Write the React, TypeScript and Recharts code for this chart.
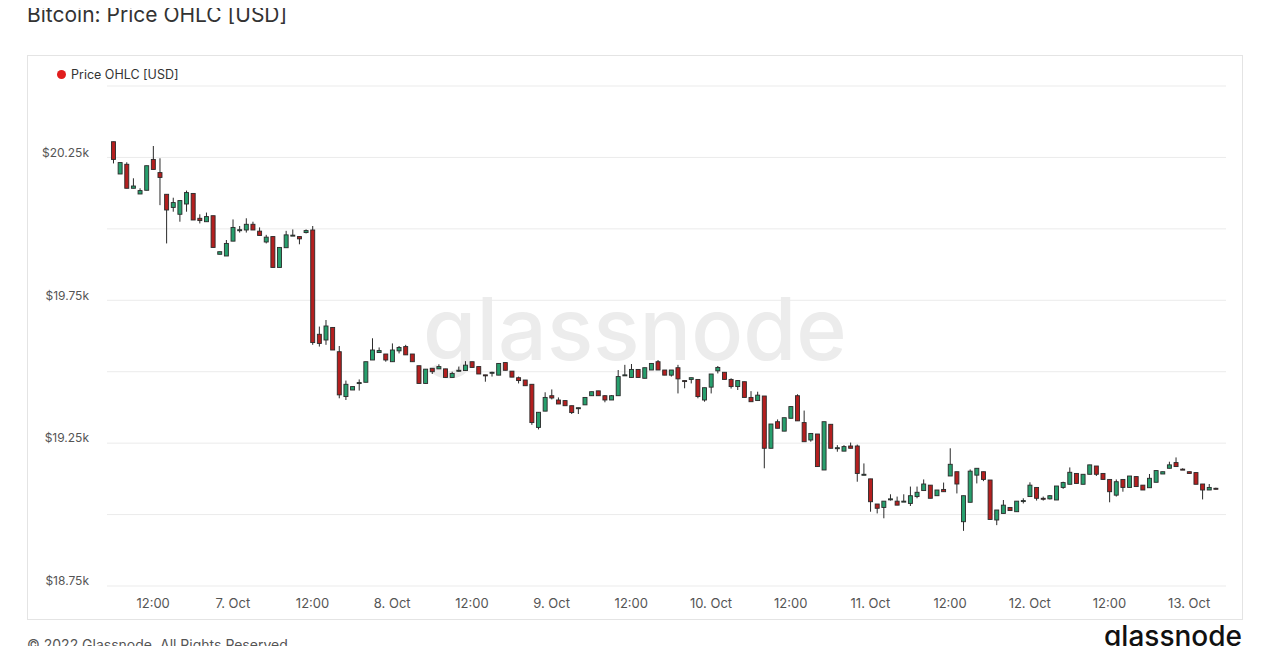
import React from 'react';
import { ComposedChart, Bar, XAxis, YAxis, CartesianGrid } from 'recharts';

// hourly candles, first one = 6 Oct 2022 06:00
const opens = [
  20305, 20192, 20226, 20142, 20122, 20135, 20243, 20197, 20121, 20075,
  20051, 20087, 20124, 20037, 20025, 20046, 19911, 19905, 19957, 19995,
  19996, 20016, 19992, 19954, 19973, 19865, 19934, 19976, 19973, 19987,
  19996, 19631, 19611, 19655, 19570, 19413, 19436, 19459, 19463, 19541,
  19567, 19562, 19535, 19573, 19588, 19562, 19521, 19459, 19512, 19510,
  19510, 19480, 19503, 19504, 19535, 19518, 19489, 19496, 19488, 19532,
  19502, 19479, 19471, 19456, 19305, 19362, 19416, 19401, 19399, 19381,
  19372, 19384, 19416, 19433, 19416, 19401, 19416, 19487, 19480, 19508,
  19477, 19506, 19535, 19506, 19488, 19514, 19469, 19473, 19473, 19401,
  19446, 19503, 19498, 19473, 19448, 19465, 19410, 19399, 19415, 19232,
  19325, 19292, 19337, 19416, 19322, 19261, 19282, 19156, 19316, 19232,
  19222, 19240, 19240, 19140, 19125, 19037, 19025, 19053, 19047, 19045,
  19039, 19063, 19084, 19103, 19066, 19088, 19135, 19150, 18975, 19043,
  19138, 19150, 19121, 18981, 19004, 19025, 19010, 19047, 19063, 19095,
  19057, 19055, 19051, 19095, 19106, 19144, 19106, 19141, 19170, 19144,
  19123, 19068, 19123, 19095, 19133, 19103, 19094, 19113, 19142, 19162,
  19182, 19159, 19150, 19147, 19107, 19086, 19092,
];
const highs = [
  20305, 20232, 20233, 20177, 20142, 20221, 20290, 20247, 20121, 20109,
  20099, 20134, 20124, 20051, 20057, 20046, 19920, 19961, 20033, 20010,
  20037, 20025, 20005, 19979, 19973, 19935, 19993, 19998, 19973, 19998,
  20010, 19658, 19681, 19655, 19590, 19469, 19448, 19473, 19535, 19617,
  19585, 19562, 19599, 19590, 19594, 19562, 19521, 19509, 19512, 19526,
  19510, 19500, 19518, 19537, 19535, 19518, 19489, 19500, 19529, 19532,
  19502, 19483, 19471, 19456, 19358, 19428, 19438, 19410, 19399, 19381,
  19374, 19410, 19430, 19433, 19418, 19418, 19506, 19524, 19527, 19508,
  19514, 19529, 19541, 19506, 19506, 19524, 19469, 19479, 19473, 19444,
  19492, 19520, 19498, 19477, 19469, 19465, 19432, 19430, 19415, 19317,
  19333, 19339, 19378, 19421, 19364, 19284, 19282, 19325, 19316, 19243,
  19243, 19252, 19245, 19179, 19125, 19037, 19047, 19071, 19063, 19071,
  19098, 19098, 19123, 19103, 19086, 19112, 19232, 19150, 19066, 19158,
  19162, 19150, 19121, 19016, 19051, 19025, 19047, 19057, 19113, 19095,
  19063, 19068, 19100, 19115, 19165, 19144, 19141, 19174, 19170, 19144,
  19123, 19123, 19123, 19135, 19133, 19103, 19142, 19154, 19150, 19185,
  19200, 19162, 19150, 19147, 19107, 19107, 19094,
];
const lows = [
  20229, 20192, 20142, 20142, 20122, 20135, 20208, 20083, 19949, 20060,
  20025, 20060, 20031, 20019, 20025, 19935, 19911, 19905, 19957, 19987,
  19987, 19996, 19977, 19949, 19865, 19865, 19934, 19976, 19946, 19984,
  19594, 19588, 19594, 19576, 19407, 19401, 19436, 19434, 19463, 19541,
  19567, 19535, 19535, 19564, 19559, 19535, 19459, 19459, 19492, 19510,
  19480, 19480, 19500, 19504, 19515, 19492, 19465, 19483, 19488, 19505,
  19481, 19459, 19451, 19314, 19298, 19362, 19403, 19387, 19381, 19352,
  19352, 19384, 19416, 19416, 19393, 19401, 19416, 19487, 19480, 19480,
  19477, 19506, 19506, 19488, 19483, 19424, 19442, 19459, 19407, 19395,
  19424, 19494, 19473, 19441, 19436, 19410, 19395, 19399, 19162, 19232,
  19302, 19292, 19337, 19328, 19255, 19255, 19168, 19156, 19232, 19220,
  19222, 19232, 19115, 19138, 19010, 19004, 18987, 19049, 19033, 19045,
  19030, 19057, 19084, 19057, 19066, 19080, 19135, 19074, 18943, 19043,
  19109, 19117, 18983, 18963, 19004, 19014, 19010, 19039, 19063, 19049,
  19049, 19053, 19051, 19090, 19106, 19109, 19106, 19141, 19135, 19123,
  19043, 19063, 19080, 19095, 19098, 19086, 19094, 19113, 19142, 19162,
  19168, 19156, 19144, 19106, 19053, 19086, 19088,
];
const closes = [
  20243, 20232, 20142, 20150, 20134, 20221, 20208, 20180, 20066, 20092,
  20099, 20127, 20031, 20029, 20043, 19935, 19920, 19949, 20005, 19997,
  20016, 19996, 19977, 19971, 19865, 19935, 19979, 19978, 19965, 19994,
  19602, 19599, 19660, 19576, 19419, 19456, 19448, 19462, 19535, 19576,
  19574, 19541, 19576, 19585, 19559, 19535, 19459, 19509, 19500, 19518,
  19480, 19494, 19505, 19523, 19515, 19492, 19487, 19498, 19529, 19505,
  19481, 19469, 19451, 19322, 19358, 19410, 19408, 19387, 19381, 19357,
  19374, 19410, 19430, 19416, 19401, 19416, 19483, 19489, 19508, 19480,
  19514, 19529, 19506, 19488, 19506, 19475, 19468, 19479, 19413, 19444,
  19492, 19515, 19473, 19448, 19469, 19410, 19395, 19418, 19232, 19317,
  19302, 19339, 19378, 19328, 19255, 19284, 19168, 19325, 19232, 19234,
  19238, 19232, 19144, 19141, 19045, 19022, 19047, 19055, 19033, 19047,
  19066, 19078, 19107, 19057, 19086, 19080, 19176, 19107, 19066, 19152,
  19162, 19123, 18983, 19016, 19033, 19014, 19047, 19049, 19103, 19057,
  19055, 19066, 19100, 19112, 19148, 19109, 19141, 19174, 19141, 19123,
  19080, 19115, 19095, 19135, 19098, 19086, 19127, 19154, 19150, 19174,
  19168, 19158, 19144, 19106, 19086, 19095, 19090,
];

// hours since 6 Oct 06:00
const xTickHours = [6, 18, 30, 42, 54, 66, 78, 90, 102, 114, 126, 138, 150, 162];
const xTickLabels = [
  '12:00', '7. Oct', '12:00', '8. Oct', '12:00', '9. Oct', '12:00',
  '10. Oct', '12:00', '11. Oct', '12:00', '12. Oct', '12:00', '13. Oct',
];
const yTicks = [18750, 19000, 19250, 19500, 19750, 20000, 20250, 20500];
const yTickLabels = ['$18.75k', '', '$19.25k', '', '$19.75k', '', '$20.25k', ''];

const data = opens.map((open, i) => ({
  hour: i,
  open,
  high: highs[i],
  low: lows[i],
  close: closes[i],
  range: [lows[i], highs[i]],
}));

const UP = '#279f6d';
const DOWN = '#b41f1f';
const EDGE = '#2a2a2a';

const Candle = (props: any) => {
  const { x, y, width, height, payload } = props;
  if (!payload) return null;
  const { open, close, high, low } = payload;
  const top = Math.min(y, y + height);
  const h = Math.abs(height);
  const k = high === low ? 0 : h / (high - low);
  const py = (v: number) => top + (high - v) * k;
  const bodyTop = py(Math.max(open, close));
  const bodyBot = py(Math.min(open, close));
  const cx = x + width / 2;
  return (
    <g>
      <line x1={cx} x2={cx} y1={top} y2={top + h} stroke={EDGE} strokeWidth={1} />
      <rect
        x={x + 0.5}
        y={bodyTop}
        width={width - 1}
        height={Math.max(1, bodyBot - bodyTop)}
        fill={close >= open ? UP : DOWN}
        stroke={EDGE}
        strokeWidth={0.9}
      />
    </g>
  );
};

const YTick = (props: any) => {
  const { x, y, payload } = props;
  const label = yTickLabels[yTicks.indexOf(payload.value)];
  if (!label) return null;
  return (
    <text x={x} y={y - 4} textAnchor="end" dominantBaseline="middle" fill="#555" fontSize={12}>
      {label}
    </text>
  );
};

export default function App() {
  return (
    <div
      style={{
        position: 'relative',
        width: 1269,
        height: 654,
        margin: -8,
        overflow: 'hidden',
        background: '#fff',
        fontFamily: 'Inter, "Noto Sans", sans-serif',
      }}
    >
      <div style={{ position: 'absolute', left: 27, top: 2, fontSize: 21, lineHeight: '26px', color: '#333' }}>
        Bitcoin: Price OHLC [USD]
      </div>

      <div
        style={{
          position: 'absolute',
          left: 27,
          top: 55,
          width: 1216,
          height: 565,
          boxSizing: 'border-box',
          border: '1px solid #e4e4e4',
        }}
      />

      {/* watermark */}
      <div
        style={{
          position: 'absolute',
          left: 335,
          width: 600,
          top: 279,
          textAlign: 'center',
          fontSize: 86,
          fontWeight: 500,
          color: '#ececec',
          lineHeight: '100px',
        }}
      >
        glassnode
      </div>

      <div style={{ position: 'absolute', left: 27, top: 55 }}>
        <ComposedChart width={1216} height={565} data={data} margin={{ top: 31, right: 17, bottom: 0, left: 0 }}>
          <CartesianGrid vertical={false} stroke="#ebebeb" />
          <XAxis
            dataKey="hour"
            type="number"
            domain={[-0.95, 167.55]}
            allowDataOverflow
            ticks={xTickHours}
            tickFormatter={(v: number) => xTickLabels[xTickHours.indexOf(v)] ?? ''}
            axisLine={false}
            tickLine={false}
            tickSize={0}
            tickMargin={13}
            height={34}
            tick={{ fill: '#555', fontSize: 13 }}
            interval={0}
          />
          <YAxis
            type="number"
            domain={[18750, 20500]}
            allowDataOverflow
            ticks={yTicks}
            axisLine={false}
            tickLine={false}
            tickSize={0}
            tickMargin={18}
            width={80}
            tick={<YTick />}
            interval={0}
          />
          <Bar dataKey="range" barSize={5} shape={(p: any) => <Candle {...p} />} isAnimationActive={false} />
        </ComposedChart>
      </div>

      {/* legend */}
      <div style={{ position: 'absolute', left: 56.5, top: 70, width: 9, height: 9, borderRadius: '50%', background: '#e11d1d' }} />
      <div style={{ position: 'absolute', left: 71, top: 66, fontSize: 12.5, lineHeight: '17px', color: '#333' }}>
        Price OHLC [USD]
      </div>

      <div style={{ position: 'absolute', left: 27, top: 636, fontSize: 14, lineHeight: '17px', color: '#555' }}>
        © 2022 Glassnode. All Rights Reserved.
      </div>
      <div
        style={{
          position: 'absolute',
          right: 27,
          top: 622,
          fontSize: 28,
          fontWeight: 500,
          color: '#111',
          lineHeight: '28px',
        }}
      >
        glassnode
      </div>
    </div>
  );
}
